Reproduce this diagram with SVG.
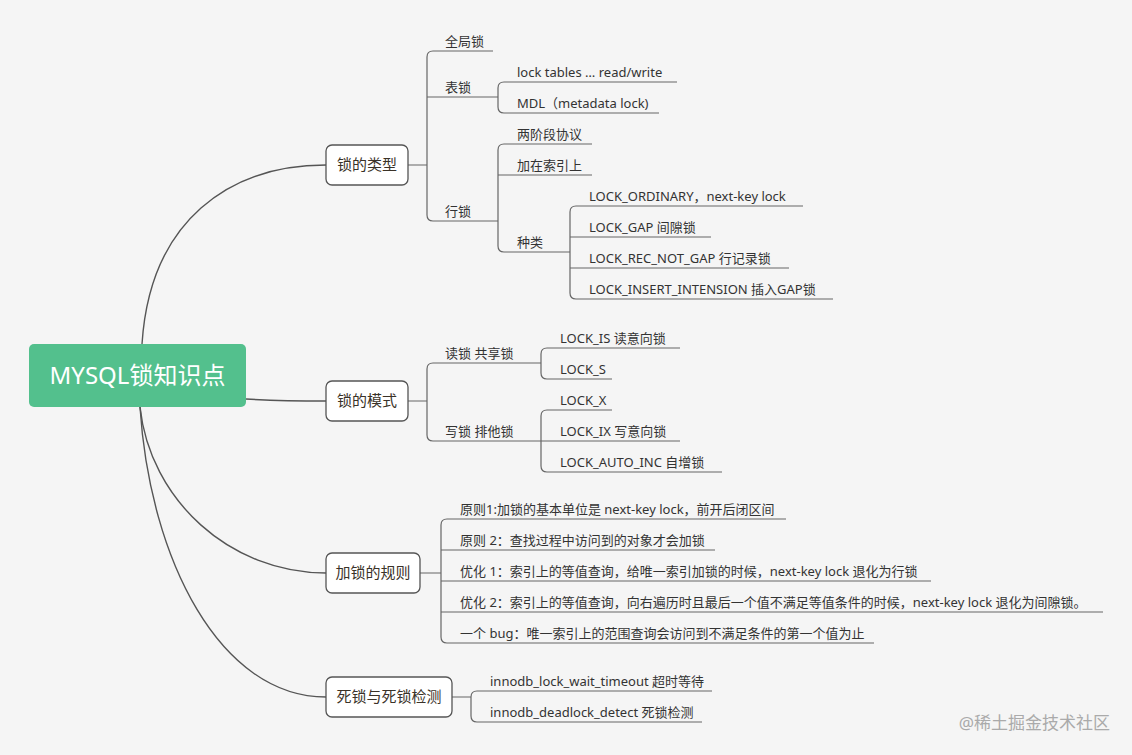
<svg xmlns="http://www.w3.org/2000/svg" width="1132" height="755" viewBox="0 0 1132 755">
<style>
.c{fill:none;stroke:#555;stroke-width:1.4}
.u{fill:none;stroke:#666;stroke-width:1.2}
.t{font-family:"Noto Sans","Noto Sans CJK SC",sans-serif;font-size:13px;fill:#333}
.b{fill:#fff;stroke:#555;stroke-width:1.3}
.bt{font-family:"Noto Sans","Noto Sans CJK SC",sans-serif;font-size:15px;fill:#3a3228;text-anchor:middle}
</style>
<rect width="1132" height="755" fill="#f5f5f5"/>
<g id="connectors">
<path class="c" d="M142,344 C150,220 230,165 326,165"/>
<path class="c" d="M246,399 C280,401 300,401 326,401"/>
<path class="c" d="M140,407 C150,500 230,573 326,573"/>
<path class="c" d="M140,407 C150,560 220,697 326,697"/>
<path class="u" d="M408,165H427 M493,51H433Q427,51 427,57V215Q427,221 433,221H498 M427,97H498"/>
<path class="u" d="M677,82H504Q498,82 498,88V107Q498,113 504,113H659 M498,97H498"/>
<path class="u" d="M592,144H504Q498,144 498,150V246Q498,252 504,252H570 M498,175H592"/>
<path class="u" d="M803,206H576Q570,206 570,212V293Q570,299 576,299H833 M570,237H711 M570,268H789"/>
<path class="u" d="M408,401H427 M541,363H433Q427,363 427,369V435Q427,441 433,441H541"/>
<path class="u" d="M680,348H547Q541,348 541,354V373Q541,379 547,379H612"/>
<path class="u" d="M612,410H547Q541,410 541,416V466Q541,472 547,472H722 M541,441H680"/>
<path class="u" d="M420,573H441 M786,519H447Q441,519 441,525V637Q441,643 447,643H874 M441,550H715 M441,581H931 M441,612H1103"/>
<path class="u" d="M452,697H471 M712,691H477Q471,691 471,697V716Q471,722 477,722H702"/>
</g>
<g id="root"><rect x="29" y="344" width="217" height="63" rx="5" fill="#53c08d"/><text x="137.5" y="384" font-family="Noto Sans,Noto Sans CJK SC,sans-serif" font-size="24" fill="#fff" text-anchor="middle">MYSQL锁知识点</text></g>
<g id="n1"><rect class="b" x="326" y="145" width="82" height="40" rx="6"/><text class="bt" x="367" y="170">锁的类型</text></g>
<g id="n2"><rect class="b" x="326" y="381" width="82" height="40" rx="6"/><text class="bt" x="367" y="406">锁的模式</text></g>
<g id="n3"><rect class="b" x="326" y="553" width="94" height="40" rx="6"/><text class="bt" x="373" y="578">加锁的规则</text></g>
<g id="n4"><rect class="b" x="326" y="677" width="126" height="40" rx="6"/><text class="bt" x="389" y="702">死锁与死锁检测</text></g>
<g id="leaves">
<text class="t" x="445" y="46">全局锁</text>
<text class="t" x="445" y="92">表锁</text>
<text class="t" x="445" y="216">行锁</text>
<text class="t" x="517" y="77">lock tables … read/write</text>
<text class="t" x="517" y="108">MDL（metadata lock)</text>
<text class="t" x="517" y="139">两阶段协议</text>
<text class="t" x="517" y="170">加在索引上</text>
<text class="t" x="517" y="247">种类</text>
<text class="t" x="589" y="201">LOCK_ORDINARY，next-key lock</text>
<text class="t" x="589" y="232">LOCK_GAP 间隙锁</text>
<text class="t" x="589" y="263">LOCK_REC_NOT_GAP 行记录锁</text>
<text class="t" x="589" y="294">LOCK_INSERT_INTENSION 插入GAP锁</text>
<text class="t" x="445" y="358">读锁 共享锁</text>
<text class="t" x="445" y="436">写锁 排他锁</text>
<text class="t" x="560" y="343">LOCK_IS 读意向锁</text>
<text class="t" x="560" y="374">LOCK_S</text>
<text class="t" x="560" y="405">LOCK_X</text>
<text class="t" x="560" y="436">LOCK_IX 写意向锁</text>
<text class="t" x="560" y="467">LOCK_AUTO_INC 自增锁</text>
<text class="t" x="460" y="514">原则1:加锁的基本单位是 next-key lock，前开后闭区间</text>
<text class="t" x="460" y="545">原则 2：查找过程中访问到的对象才会加锁</text>
<text class="t" x="460" y="576">优化 1：索引上的等值查询，给唯一索引加锁的时候，next-key lock 退化为行锁</text>
<text class="t" x="460" y="607">优化 2：索引上的等值查询，向右遍历时且最后一个值不满足等值条件的时候，next-key lock 退化为间隙锁。</text>
<text class="t" x="460" y="638">一个 bug：唯一索引上的范围查询会访问到不满足条件的第一个值为止</text>
<text class="t" x="490" y="686">innodb_lock_wait_timeout 超时等待</text>
<text class="t" x="490" y="717">innodb_deadlock_detect 死锁检测</text>
</g>
<text x="1110" y="729" font-family="Noto Sans,Noto Sans CJK SC,sans-serif" font-size="17" fill="#aaa" text-anchor="end">@稀土掘金技术社区</text>
</svg>
